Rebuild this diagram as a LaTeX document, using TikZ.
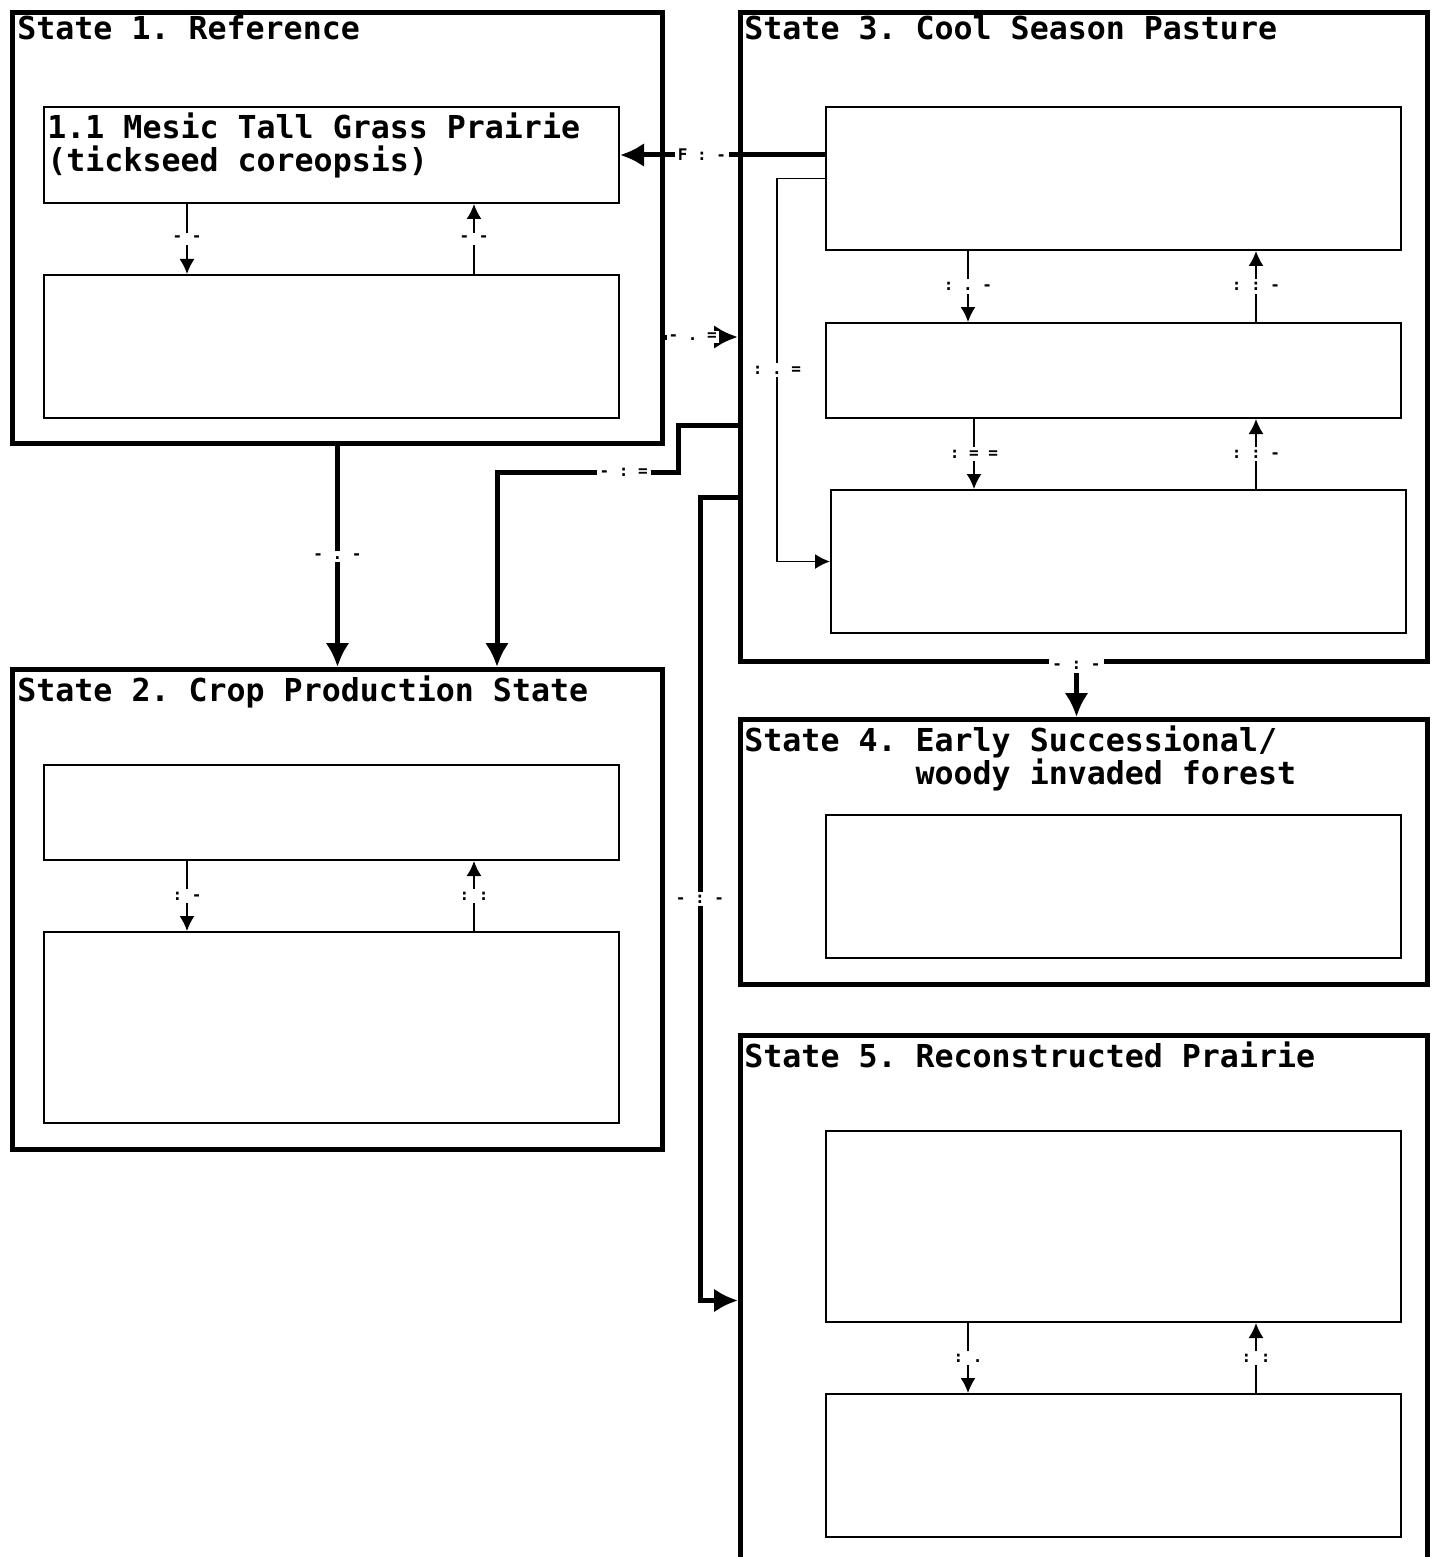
\documentclass[tikz,border=0pt]{standalone}
\usepackage{fontspec}
\usepackage{tikz}
\usetikzlibrary{arrows.meta,positioning,calc}
\frenchspacing
\newfontfamily\monofam{DejaVu Sans Mono}
\newcommand{\statefont}{\monofam\bfseries\fontsize{15.8}{16.5}\selectfont}
\newcommand{\labfont}{\monofam\bfseries\fontsize{8}{8}\selectfont}
\tikzset{
  sbox/.style={draw,line width=2.5pt,anchor=north west,inner sep=0pt},
  cbox/.style={draw,line width=1pt,anchor=north west,inner sep=0pt},
  stitle/.style={anchor=north west,inner sep=0pt,font=\statefont,align=left},
  tflow/.style={-{Latex[length=12pt,width=12pt]},line width=2.5pt},
  cflow/.style={-{Latex[length=7.5pt,width=7.5pt]},line width=0.8pt},
  tlab/.style={fill=white,inner sep=1.5pt,font=\labfont},
}

\begin{document}
\begin{tikzpicture}[x=0.5pt,y=-0.5pt]
\fill[white] (0,0) rectangle (1434,1557);
\useasboundingbox (0,0) rectangle (1434,1557);
% state frames
\node[sbox,minimum width=325pt,minimum height=215.5pt] (s1) at (10,10) {};
\node[sbox,minimum width=325pt,minimum height=240pt] (s2) at (10,667) {};
\node[sbox,minimum width=343.5pt,minimum height=324.5pt] (s3) at (738,10) {};
\node[sbox,minimum width=343.5pt,minimum height=132.5pt] (s4) at (738,717) {};
\node[sbox,minimum width=343.5pt,minimum height=265pt] (s5) at (738,1033) {};
\node[stitle] (t1) at (17,15) {State 1. Reference};
\node[stitle] (t2) at (17,675) {State 2. Crop Production State};
\node[stitle] (t3) at (744,15) {State 3. Cool Season Pasture};
\node[stitle] (t4) at (744,725) {State 4. Early Successional/\\\phantom{State 4. }woody invaded forest};
\node[stitle] (t5) at (744,1041) {State 5. Reconstructed Prairie};
% community boxes
\node[cbox,minimum width=287.5pt,minimum height=48pt] (b11) at (43,106) {};
\node[stitle] (c11) at (47,112) {1.1 Mesic Tall Grass Prairie\\(tickseed coreopsis)};
\node[cbox,minimum width=287.5pt,minimum height=71.5pt] (b12) at (43,274) {};
\node[cbox,minimum width=287.5pt,minimum height=47.5pt] (b21) at (43,764) {};
\node[cbox,minimum width=287.5pt,minimum height=95.5pt] (b22) at (43,931) {};
\node[cbox,minimum width=287.5pt,minimum height=71.5pt] (b31) at (825,106) {};
\node[cbox,minimum width=287.5pt,minimum height=47.5pt] (b32) at (825,322) {};
\node[cbox,minimum width=287.5pt,minimum height=71.5pt] (b33) at (830,489) {};
\node[cbox,minimum width=287.5pt,minimum height=71.5pt] (b41) at (825,814) {};
\node[cbox,minimum width=287.5pt,minimum height=95.5pt] (b51) at (825,1130) {};
\node[cbox,minimum width=287.5pt,minimum height=71.5pt] (b52) at (825,1393) {};
% pathways inside states
\draw[cflow] ([xshift=72pt]b11.south west) -- ([xshift=72pt]b12.north west) node[tlab,midway] {- -};
\draw[cflow] ([xshift=215.5pt]b12.north west) -- ([xshift=215.5pt]b11.south west) node[tlab,midway] {- -};
\draw[cflow] ([xshift=72pt]b21.south west) -- ([xshift=72pt]b22.north west) node[tlab,midway] {: -};
\draw[cflow] ([xshift=215.5pt]b22.north west) -- ([xshift=215.5pt]b21.south west) node[tlab,midway] {: :};
\draw[cflow] ([xshift=71.5pt]b31.south west) -- ([xshift=71.5pt]b32.north west) node[tlab,midway] {: . -};
\draw[cflow] ([xshift=215.5pt]b32.north west) -- ([xshift=215.5pt]b31.south west) node[tlab,midway] {: : -};
\draw[cflow] ([xshift=74.5pt]b32.south west) -- ([xshift=72pt]b33.north west) node[tlab,midway] {: = =};
\draw[cflow] ([xshift=213pt]b33.north west) -- ([xshift=215.5pt]b32.south west) node[tlab,midway] {: : -};
\draw[cflow] (b31.west) -- ++(-24pt,0) |- (b33.west) node[tlab,pos=0.25] {: . =};
\draw[cflow] ([xshift=71.5pt]b51.south west) -- ([xshift=71.5pt]b52.north west) node[tlab,midway] {: .};
\draw[cflow] ([xshift=215.5pt]b52.north west) -- ([xshift=215.5pt]b51.south west) node[tlab,midway] {: :};
% transitions between states
\coordinate (p31) at (b31.west |- b11.east);
\draw[tflow] (p31) -- (b11.east) node[tlab,pos=0.6] {F : -};
\draw[tflow] (s3.west -| s1.east) -- (s3.west) node[tlab,inner sep=1pt,pos=0.38] {- . =};
\draw[tflow] (s1.south) -- (s1.south |- s2.north) node[tlab,midway] {- . -};
\coordinate (p32) at ([yshift=-44.25pt]s3.west);
\draw[tflow] (p32) -- ++(-30pt,0) -- ++(0,-23.5pt) -| ([xshift=243.5pt]s2.north west) node[tlab,pos=0.15] {- : =};
\coordinate (p35) at ([yshift=-80.25pt]s3.west);
\draw[tflow] (p35) -- ++(-19pt,0) |- (s5.west) node[tlab,pos=0.25] {- : -};
\coordinate (p34) at ([xshift=-3.75pt]s3.south);
\draw[tflow] (p34) -- (p34 |- s4.north) node[tlab,pos=0.03] {- : -};
\end{tikzpicture}
\end{document}
